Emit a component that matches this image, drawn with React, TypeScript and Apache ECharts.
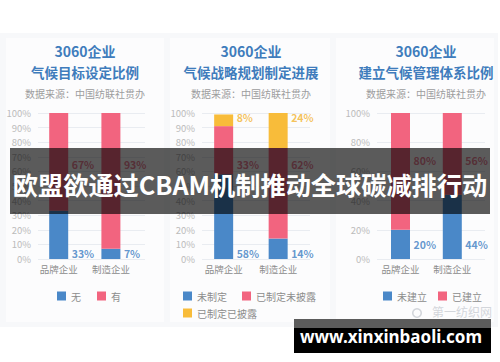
import React, { useEffect, useRef } from "react";
import * as echarts from "echarts";

// ---- data ----
const categories = ["品牌企业", "制造企业"];

const c1Names = ["无", "有"];
const c1None = [33, 7];
const c1Has = [67, 93];

const c2Names = ["未制定", "已制定未披露", "已制定已披露"];
const c2NotSet = [58, 14];
const c2SetUndisclosed = [33, 62];
const c2SetDisclosed = [8, 24];

const c3Names = ["未建立", "已建立"];
const c3NotBuilt = [20, 44];
const c3Built = [80, 56];

const titleLine1 = "3060企业";
const titles = ["气候目标设定比例", "气候战略规划制定进展", "建立气候管理体系比例"];
const sourceText = "数据来源：中国纺联社贯办";
const bannerText = "欧盟欲通过CBAM机制推动全球碳减排行动";
const siteText = "www.xinxinbaoli.com";
const weiboText = "第一纺织网";

const BLUE = "#4a88c8";
const PINK = "#f2647f";
const YELLOW = "#f8bc3a";
const FONT = '"Noto Sans CJK SC", "Noto Sans", sans-serif';

export default function App() {
  const ref = useRef<HTMLDivElement>(null);

  useEffect(() => {
    if (!ref.current) return;
    const chart = echarts.init(ref.current, undefined, { renderer: "svg" });

    const top = 113;
    const height = 146;
    // [axisGridLeft, axisGridWidth, barGridLeft, barGridWidth, yInterval, titleCenter]
    const layout = [
      [38, 107, 32.6, 104.4, 10, 85],
      [202, 108, 196.4, 109, 10, 251],
      [377, 108, 374.6, 103.6, 20, 426],
    ];

    const grids: any[] = [];
    const xAxes: any[] = [];
    const yAxes: any[] = [];
    layout.forEach((l, i) => {
      grids.push({ left: l[0], width: l[1], top, height });
      grids.push({ left: l[2], width: l[3], top, height });
      xAxes.push({ type: "category", gridIndex: 2 * i, data: categories, show: false });
      xAxes.push({
        type: "category",
        gridIndex: 2 * i + 1,
        data: categories,
        axisLine: { show: false },
        axisTick: { show: false },
        axisLabel: { color: "#8c8c8c", fontSize: 9.5, margin: 5, fontFamily: FONT },
      });
      yAxes.push({
        type: "value",
        gridIndex: 2 * i,
        min: 0,
        max: 100,
        interval: l[4],
        axisLine: { show: false },
        axisTick: { show: false },
        axisLabel: { formatter: "{value}%", color: "#bbbbbb", fontSize: 9.5, margin: 7, fontFamily: FONT },
        splitLine: { lineStyle: { color: "#e9ecf1", width: 1 } },
      });
      yAxes.push({ type: "value", gridIndex: 2 * i + 1, min: 0, max: 100, show: false });
    });

    const bar = (name: string, data: number[], color: string, chartIdx: number) => ({
      type: "bar",
      name,
      data,
      stack: "s" + chartIdx,
      barWidth: 19,
      xAxisIndex: 2 * chartIdx + 1,
      yAxisIndex: 2 * chartIdx + 1,
      itemStyle: { color },
      z: 2,
    });

    const labels = (vals: number[], yPos: number, color: string, chartIdx: number) => ({
      type: "scatter",
      xAxisIndex: 2 * chartIdx + 1,
      yAxisIndex: 2 * chartIdx + 1,
      symbolSize: 1,
      itemStyle: { color: "rgba(0,0,0,0)" },
      silent: true,
      z: 3,
      data: vals.map((v, k) => ({
        value: [k, yPos],
        label: {
          show: true,
          position: "right",
          distance: 12.5,
          formatter: `${v}%`,
          color,
          fontSize: 10.5,
          fontWeight: "bold",
          fontFamily: FONT,
        },
      })),
    });

    const series: any[] = [
      bar(c1Names[0], c1None, BLUE, 0),
      bar(c1Names[1], c1Has, PINK, 0),
      bar(c2Names[0], c2NotSet, BLUE, 1),
      bar(c2Names[1], c2SetUndisclosed, PINK, 1),
      bar(c2Names[2], c2SetDisclosed, YELLOW, 1),
      bar(c3Names[0], c3NotBuilt, BLUE, 2),
      bar(c3Names[1], c3Built, PINK, 2),
      labels(c1None, 4, "#3d7dc2", 0),
      labels(c1Has, 64.5, "#e8607b", 0),
      labels(c2NotSet, 4, "#3d7dc2", 1),
      labels(c2SetUndisclosed, 64.5, "#e8607b", 1),
      labels(c2SetDisclosed, 96.7, "#f3b431", 1),
      labels(c3NotBuilt, 10, "#3d7dc2", 2),
      labels(c3Built, 67.7, "#e8607b", 2),
    ];

    const legendBase = {
      orient: "horizontal",
      icon: "rect",
      itemWidth: 9,
      itemHeight: 9,
      padding: 0,
      selectedMode: false,
      textStyle: { color: "#8c8c8c", fontSize: 10, fontFamily: FONT },
    };
    const legend = [
      { ...legendBase, left: 57, top: 291, itemGap: 16, data: c1Names },
      { ...legendBase, left: 183, top: 291, itemGap: 15, data: [c2Names[0], c2Names[1]] },
      { ...legendBase, left: 183, top: 308, itemGap: 15, data: [c2Names[2]] },
      { ...legendBase, left: 383, top: 291, itemGap: 11, data: c3Names },
    ];

    const graphic: any[] = [
      { type: "rect", z: -10, shape: { x: 0, y: 33, width: 498, height: 294 }, style: { fill: "#f7f8fa" } },
      { type: "rect", z: -9, shape: { x: 6, y: 38, width: 158, height: 284 }, style: { fill: "#fcfcfd" } },
      { type: "rect", z: -9, shape: { x: 170, y: 38, width: 160, height: 284 }, style: { fill: "#fcfcfd" } },
      { type: "rect", z: -9, shape: { x: 336, y: 38, width: 158, height: 284 }, style: { fill: "#fcfcfd" } },
    ];
    layout.forEach((l, i) => {
      const cx = l[5];
      graphic.push({
        type: "text",
        z: 5,
        x: cx,
        y: 51,
        style: { text: titleLine1, fill: "#3f7cbc", fontSize: 14, fontWeight: "bold", fontFamily: FONT, align: "center", verticalAlign: "middle" },
      });
      graphic.push({
        type: "text",
        z: 5,
        x: cx,
        y: 71.5,
        style: { text: titles[i], fill: "#3f7cbc", fontSize: 13.5, fontWeight: "bold", fontFamily: FONT, align: "center", verticalAlign: "middle" },
      });
      graphic.push({
        type: "text",
        z: 5,
        x: cx,
        y: 93,
        style: { text: sourceText, fill: "#9d9d9d", fontSize: 10, fontFamily: FONT, align: "center", verticalAlign: "middle" },
      });
    });
    graphic.push(
      { type: "text", z: 50, x: 462, y: 311, style: { text: weiboText, fill: "#d3d6db", fontSize: 12, fontFamily: FONT, align: "center", verticalAlign: "middle" } },
      { type: "ring", z: 50, shape: { cx: 417, cy: 313, r: 5, r0: 3.5 }, style: { fill: "#d3d6db" } },
      { type: "rect", z: 100, shape: { x: 10, y: 148, width: 480, height: 66 }, style: { fill: "rgba(0,0,0,0.64)" } },
      {
        type: "text",
        z: 101,
        x: 250,
        y: 184,
        style: { text: bannerText, fill: "#ffffff", fontSize: 25.2, fontWeight: "bold", fontFamily: FONT, align: "center", verticalAlign: "middle" },
      },
      { type: "rect", z: 100, shape: { x: 294, y: 319, width: 197, height: 9 }, style: { fill: "#5c5c5c" } },
      { type: "rect", z: 100, shape: { x: 294, y: 328, width: 197, height: 25 }, style: { fill: "#000000" } },
      {
        type: "text",
        z: 101,
        x: 391,
        y: 336.5,
        style: { text: siteText, fill: "#ffffff", fontSize: 17, fontWeight: "bold", fontFamily: '"Noto Sans", "DejaVu Sans", sans-serif', align: "center", verticalAlign: "middle" },
      }
    );

    chart.setOption({
      animation: false,
      backgroundColor: "#ffffff",
      textStyle: { fontFamily: FONT },
      grid: grids,
      xAxis: xAxes,
      yAxis: yAxes,
      legend,
      series,
      graphic,
    });

    return () => chart.dispose();
  }, []);

  return (
    <div
      ref={ref}
      style={{ position: "absolute", left: 0, top: 0, width: 500, height: 362 }}
    />
  );
}
